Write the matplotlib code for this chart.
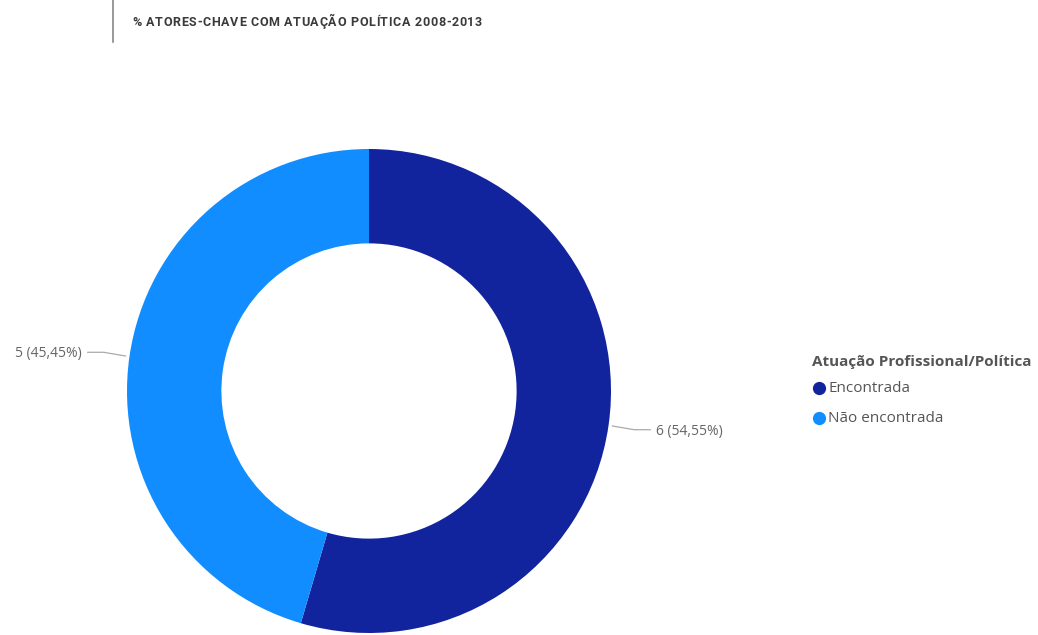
import matplotlib
matplotlib.use("Agg")
import matplotlib.pyplot as plt
import numpy as np

categories = ["Encontrada", "Não encontrada"]
counts = [6, 5]
colors = ["#12239E", "#118DFF"]
title = "% ATORES-CHAVE COM ATUAÇÃO POLÍTICA 2008-2013"
legend_title = "Atuação Profissional/Política"

W, H = 1038, 635
fig = plt.figure(figsize=(W / 100, H / 100), dpi=100)
ax = fig.add_axes([0, 0, 1, 1])
ax.axis("off")

cx, cy, R = 369, H - 391, 242
wedges, _ = ax.pie(counts, colors=colors, startangle=90, counterclock=False,
                   center=(cx, cy), radius=R,
                   wedgeprops=dict(width=R * 0.39, linewidth=0))
ax.set_xlim(0, W)
ax.set_ylim(0, H)
ax.set_aspect("equal")

total = sum(counts)
label_font = ["Open Sans", "DejaVu Sans"]
for w, c in zip(wedges, counts):
    mid = np.deg2rad((w.theta1 + w.theta2) / 2)
    dx, dy = np.cos(mid), np.sin(mid)
    x0, y0 = cx + (R + 4) * dx, cy + (R + 4) * dy
    x1, y1 = cx + (R + 26) * dx, cy + (R + 30) * dy
    side = 1 if dx > 0 else -1
    x2 = x1 + side * 16
    ax.plot([x0, x1, x2], [y0, y1, y1], color="#aaaaaa", lw=0.9)
    pct = f"{c / total * 100:.2f}".replace(".", ",")
    ax.text(x2 + side * 6, y1 - 1.5, f"{c} ({pct}%)", ha="left" if side > 0 else "right",
            va="center", fontsize=10, color="#666666", family=label_font)

# title block with letter tracking, glyphs share one baseline
ax.plot([113, 113], [H - 42, H], color="#888888", lw=1.2)
fig.canvas.draw()
renderer = fig.canvas.get_renderer()
x = 132
tracking = 0.7
for ch in title:
    t = ax.text(x, H - 26, ch, ha="left", va="baseline", fontsize=9,
                fontweight="bold", color="#3a3a3a", family=["Roboto", "DejaVu Sans"])
    if ch == " ":
        adv = 3.0
    else:
        adv = t.get_window_extent(renderer).width
    x += adv + tracking

# legend
ax.text(812, H - 362, legend_title, ha="left", va="center", fontsize=11,
        fontweight="bold", color="#555555", family=label_font)
for i, (cat, col) in enumerate(zip(categories, colors)):
    y = H - 388 - i * 30
    ax.plot([819], [y], marker="o", markersize=8.5, color=col)
    ax.text(828, y, cat, ha="left", va="center", fontsize=11,
            color="#555555", family=label_font)

fig.savefig("out.png", dpi=100, facecolor="white")
